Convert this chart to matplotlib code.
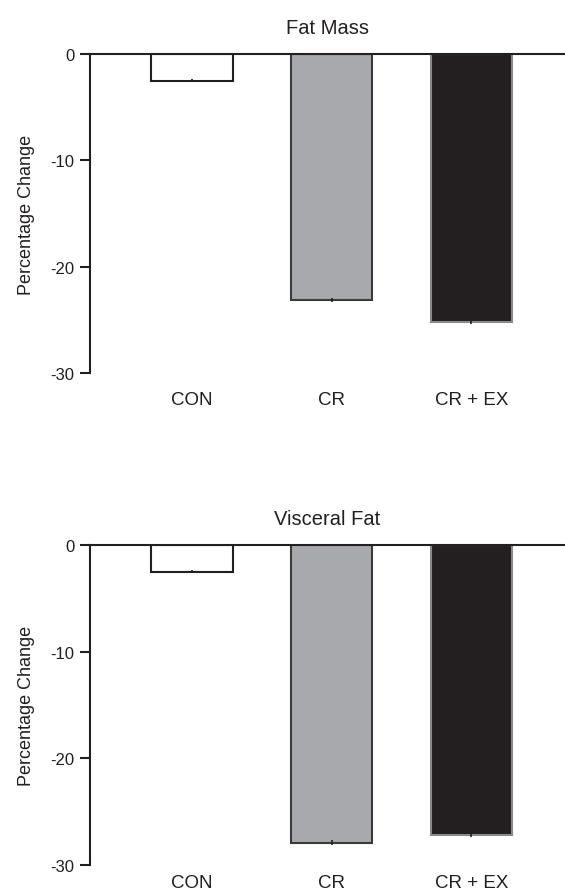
import matplotlib
matplotlib.use("Agg")
import matplotlib.pyplot as plt
import numpy as np

plt.rcParams['font.family'] = ['Liberation Sans', 'DejaVu Sans']

categories = ["CON", "CR", "CR + EX"]
fat_mass = [-2.5, -23.1, -25.2]
fat_mass_err = [0.15, 0.2, 0.15]
visceral_fat = [-2.5, -27.9, -27.2]
visceral_fat_err = [0.15, 0.2, 0.15]
yticks = [0, -10, -20, -30]
titles = ["Fat Mass", "Visceral Fat"]

face_colors = ["white", "#a7a9ac", "#231f20"]
edge_colors = ["#231f20", "#3a3a3a", "#8a8a8a"]

fig = plt.figure(figsize=(5.65, 8.95), dpi=100)
W, H = 565, 895

def add_axes(top_px, bottom_px):
    left = 90 / W
    return fig.add_axes([left, 1 - bottom_px / H, 1 - left, (bottom_px - top_px) / H])

axes = [add_axes(55, 374), add_axes(546, 866)]
datasets = [(fat_mass, fat_mass_err), (visceral_fat, visceral_fat_err)]
label_pads = [13, 6.5]

for ax, (vals, errs), title, pad in zip(axes, datasets, titles, label_pads):
    x = np.arange(len(categories))
    ax.bar(x, vals, width=0.58, color=face_colors, edgecolor=edge_colors, linewidth=1.5, zorder=2)
    ax.errorbar(x, vals, yerr=errs, fmt='none', ecolor='#231f20', elinewidth=1.2, capsize=0, zorder=3)
    ax.set_xlim(-0.73, 2.67)
    ax.set_ylim(-30, 0)
    ax.set_yticks(yticks)
    ax.set_yticklabels([str(t) for t in yticks])
    for s in ["right", "bottom"]:
        ax.spines[s].set_visible(False)
    ax.spines["left"].set_linewidth(1.5)
    ax.spines["top"].set_linewidth(1.5)
    ax.spines["left"].set_color("#231f20")
    ax.spines["top"].set_color("#231f20")
    ax.tick_params(axis='y', direction='out', length=7, width=1.5, pad=4, labelsize=12, colors='#231f20')
    ax.tick_params(axis='x', length=0, pad=pad, labelsize=13.5)
    ax.set_xticks(x)
    ax.set_xticklabels(categories, color='#231f20')
    ax.set_ylabel("Percentage Change", fontsize=13, color='#231f20', labelpad=11)
    ax.set_title(title, fontsize=14.5, color='#231f20', pad=15)
    ax.set_facecolor('none')

fig.savefig("out.png", dpi=100)
